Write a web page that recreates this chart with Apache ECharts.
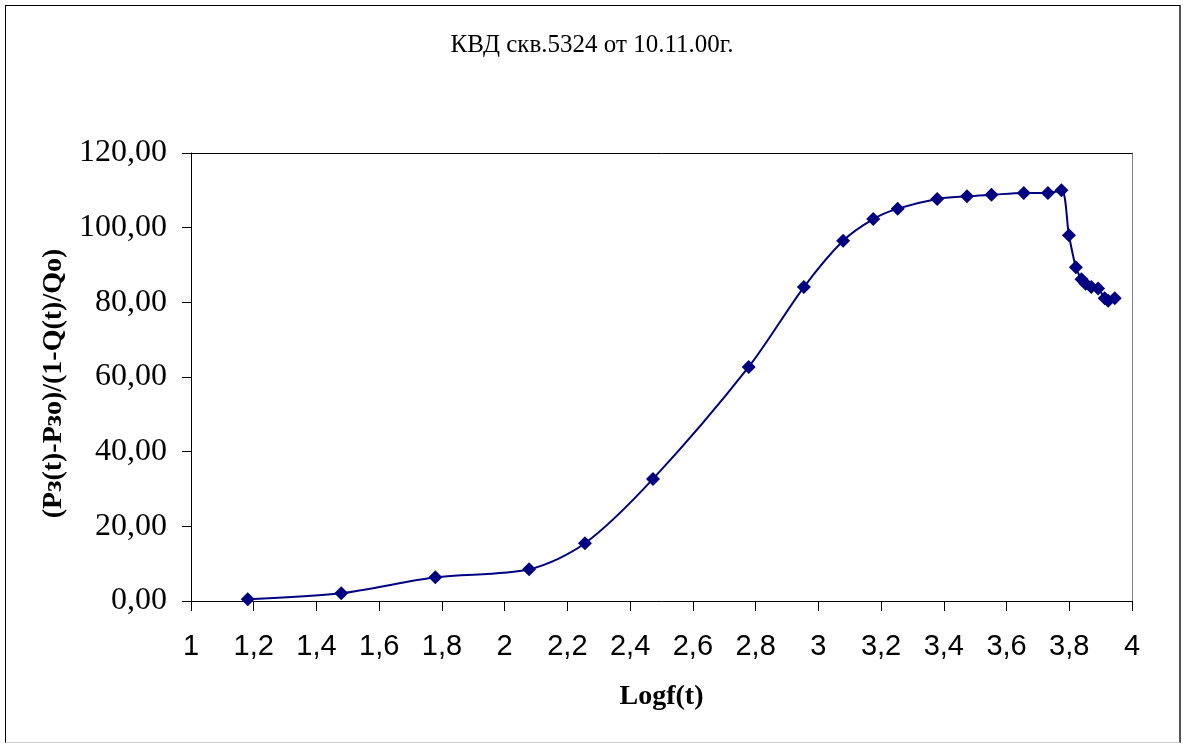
<!DOCTYPE html>
<html lang="ru">
<head>
<meta charset="UTF-8">
<title>КВД скв.5324</title>
<script src="https://cdn.jsdelivr.net/npm/echarts@6/dist/echarts.min.js"></script>
<style>
	html, body { margin: 0; padding: 0; background: #fff; }
	#frame { position: absolute; left: 5px; top: 5px; width: 1173px; height: 736px; border: 1px solid #000; border-right: 2px solid #555; border-bottom-color: #ccc; }
	#chart { position: absolute; left: 0; top: 0; width: 1184px; height: 745px; }
</style>
</head>
<body>
<div id="frame"></div>
<div id="chart"></div>
<script>
	// Logf(t)
	var logT = [1.181, 1.479, 1.779, 2.078, 2.256, 2.473, 2.778, 2.954, 3.079, 3.175, 3.253,
		3.379, 3.474, 3.552, 3.655, 3.732, 3.775, 3.799, 3.821, 3.839, 3.852, 3.870, 3.892,
		3.913, 3.924, 3.945];
	// (Pз(t)-Pзо)/(1-Q(t)/Qо)
	var pressure = [0.5, 2.06, 6.35, 8.5, 15.46, 32.7, 62.7, 84.1, 96.5, 102.3, 105.1,
		107.7, 108.4, 108.8, 109.3, 109.3, 110.0, 98.0, 89.4, 86.2, 85.0, 84.1, 83.7,
		81.1, 80.4, 81.1];

	var points = [];
	for (var i = 0; i < logT.length; i++) {
		points.push([logT[i], pressure[i]]);
	}

	var chart = echarts.init(document.getElementById('chart'));
	chart.setOption({
		animation: false,
		title: {
			text: 'КВД скв.5324 от 10.11.00г.',
			left: 'center',
			top: 28,
			textStyle: { fontFamily: 'Liberation Serif', fontWeight: 'normal', fontSize: 25, color: '#000' }
		},
		grid: { left: 191, top: 153, right: 52, bottom: 144, show: false },
		xAxis: [{
			type: 'value',
			min: 1, max: 4, interval: 0.2,
			name: 'Logf(t)',
			nameLocation: 'middle',
			nameGap: 82,
			nameTextStyle: { fontFamily: 'Liberation Serif', fontWeight: 'bold', fontSize: 28, color: '#000' },
			axisLine: { lineStyle: { color: '#000', width: 1 } },
			axisTick: { length: 10, lineStyle: { color: '#000' } },
			splitLine: { show: false },
			axisLabel: {
				margin: 31,
				fontFamily: 'Liberation Sans', fontSize: 29, color: '#000',
				formatter: function (v) { return String(Math.round(v * 10) / 10).replace('.', ','); }
			}
		}, {
			type: 'value', position: 'top', min: 1, max: 4,
			axisLine: { show: true, onZero: false, lineStyle: { color: '#000' } },
			axisTick: { show: false }, axisLabel: { show: false }, splitLine: { show: false }
		}],
		yAxis: [{
			type: 'value',
			min: 0, max: 120, interval: 20,
			name: '(Pз(t)-Pзо)/(1-Q(t)/Qо)',
			nameLocation: 'middle',
			nameGap: 122,
			nameTextStyle: { fontFamily: 'Liberation Serif', fontWeight: 'bold', fontSize: 28, color: '#000', padding: [0, 13, 0, 0] },
			axisLine: { show: true, lineStyle: { color: '#000', width: 1 } },
			axisTick: { show: true, length: 9, lineStyle: { color: '#000' } },
			splitLine: { show: false },
			axisLabel: {
				margin: 24,
				fontFamily: 'Liberation Serif', fontSize: 32, color: '#000',
				formatter: function (v) { return v.toFixed(2).replace('.', ','); }
			}
		}, {
			type: 'value', position: 'right', min: 0, max: 120,
			axisLine: { show: true, onZero: false, lineStyle: { color: '#808080' } },
			axisTick: { show: false }, axisLabel: { show: false }, splitLine: { show: false }
		}],
		series: [{
			type: 'line',
			data: points,
			smooth: 0.3,
			symbol: 'diamond',
			symbolSize: 14,
			lineStyle: { color: '#000080', width: 2 },
			itemStyle: { color: '#000080' }
		}]
	});
</script>
</body>
</html>
